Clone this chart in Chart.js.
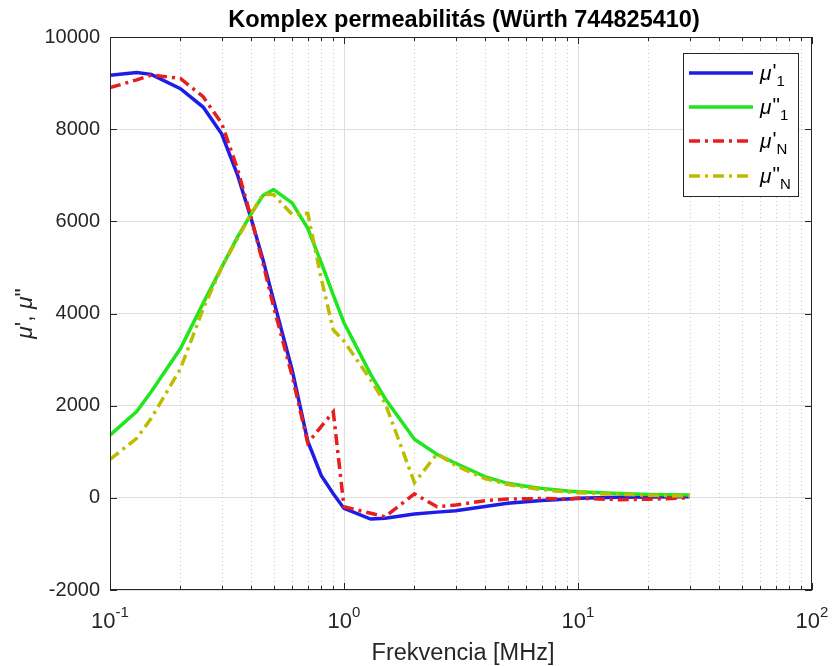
<!DOCTYPE html>
<html>
<head>
<meta charset="utf-8">
<script src="https://cdn.jsdelivr.net/npm/chart.js@4/dist/chart.umd.min.js"></script>
<style>
  body { margin: 0; background: #fff; }
</style>
</head>
<body>
<canvas id="permChart" width="833" height="666"></canvas>
<script>
// frequency points [MHz]
const freq = [0.1, 0.13, 0.15, 0.2, 0.25, 0.3, 0.35, 0.4, 0.45, 0.5, 0.6, 0.7, 0.8, 0.9, 1,
  1.3, 1.5, 2, 2.5, 3, 4, 5, 6, 7, 8, 9, 10, 15, 20, 30];

// single-turn measurement
const mu1Real = [9170, 9230, 9190, 8880, 8480, 7900, 7020, 6080, 5180, 4290, 2780, 1230, 480, 90, -230,
  -460, -445, -352, -310, -280, -190, -120, -85, -60, -40, -25, -10, 10, 20, 25];
const mu1Imag = [1360, 1870, 2300, 3240, 4220, 5000, 5650, 6150, 6560, 6690, 6400, 5850, 5100, 4400, 3800,
  2680, 2150, 1270, 940, 750, 460, 315, 250, 205, 175, 150, 133, 95, 75, 60];

// N-turn measurement
const muNReal = [8900, 9070, 9175, 9100, 8705, 8127, 7150, 6100, 5100, 4150, 2650, 1190, 1550, 1865, -195,
  -335, -410, 87, -195, -156, -62, -26, -20, -15, -20, -30, -10, -40, -30, 0];
const muNImag = [835, 1290, 1725, 2800, 4100, 5000, 5620, 6150, 6580, 6580, 6150, 6175, 4750, 3645, 3400,
  2560, 2050, 330, 955, 700, 420, 290, 225, 180, 150, 130, 110, 75, 55, 40];

const yTicks = [-2000, 0, 2000, 4000, 6000, 8000, 10000];
const xDecades = [-1, 0, 1, 2];

const FONT = '"Liberation Sans", Arial, Helvetica, sans-serif';
const AXIS = '#262626';

function series(values) {
  return freq.map((f, i) => ({ x: f, y: values[i] }));
}

function lineSet(label, values, color, dash, order) {
  return {
    label: label,
    data: series(values),
    borderColor: color,
    backgroundColor: color,
    borderWidth: 3.5,
    borderDash: dash,
    borderCapStyle: 'butt',
    pointRadius: 0,
    tension: 0,
    order: order
  };
}

// draws "μ" in italic followed by prime marks and an optional subscript
function drawMu(ctx, x, y, size, prime, sub) {
  ctx.font = 'italic ' + size + 'px ' + FONT;
  ctx.fillText('μ', x, y);
  x += ctx.measureText('μ').width + 1;
  ctx.font = size + 'px ' + FONT;
  ctx.fillText(prime, x, y - 2);
  x += ctx.measureText(prime).width;
  if (sub) {
    ctx.font = Math.round(size * 0.72) + 'px ' + FONT;
    ctx.fillText(sub, x, y + 6);
    x += ctx.measureText(sub).width;
  }
  return x;
}

const matlabAxes = {
  id: 'matlabAxes',
  beforeDatasetsDraw(chart) {
    const { ctx, chartArea: a, scales: { x } } = chart;
    ctx.save();
    ctx.lineWidth = 1;
    for (let k = -1; k < 2; k++) {
      for (let m = 1; m < 10; m++) {
        const px = Math.round(x.getPixelForValue(m * Math.pow(10, k))) + 0.5;
        if (m === 1) {
          ctx.strokeStyle = '#dedede';
          ctx.setLineDash([]);
        } else {
          ctx.strokeStyle = '#c8c8c8';
          ctx.setLineDash([1, 3]);
        }
        ctx.beginPath();
        ctx.moveTo(px, a.top);
        ctx.lineTo(px, a.bottom);
        ctx.stroke();
      }
    }
    ctx.restore();
  },
  afterDraw(chart) {
    const { ctx, chartArea: a, scales: { x, y } } = chart;
    ctx.save();

    // box and inward ticks
    ctx.strokeStyle = AXIS;
    ctx.lineWidth = 1;
    ctx.strokeRect(a.left + 0.5, a.top + 0.5, a.right - a.left - 1, a.bottom - a.top - 1);
    ctx.beginPath();
    for (let k = -1; k < 3; k++) {
      for (let m = 1; m < 10; m++) {
        const v = m * Math.pow(10, k);
        if (v > 100.0001) break;
        const px = Math.round(x.getPixelForValue(v)) + 0.5;
        const len = m === 1 ? 7 : 4;
        ctx.moveTo(px, a.bottom);
        ctx.lineTo(px, a.bottom - len);
        ctx.moveTo(px, a.top);
        ctx.lineTo(px, a.top + len);
      }
    }
    yTicks.forEach(v => {
      const py = Math.round(y.getPixelForValue(v)) + 0.5;
      ctx.moveTo(a.left, py);
      ctx.lineTo(a.left + 7, py);
      ctx.moveTo(a.right, py);
      ctx.lineTo(a.right - 7, py);
    });
    ctx.stroke();

    // decade labels 10^k
    ctx.fillStyle = AXIS;
    ctx.textBaseline = 'alphabetic';
    ctx.textAlign = 'left';
    xDecades.forEach(k => {
      const px = x.getPixelForValue(Math.pow(10, k));
      const exp = k < 0 ? '-' + (-k) : String(k);
      ctx.font = '22px ' + FONT;
      const wb = ctx.measureText('10').width;
      ctx.font = '15px ' + FONT;
      const we = ctx.measureText(exp).width;
      const x0 = px - (wb + we) / 2;
      ctx.font = '22px ' + FONT;
      ctx.fillText('10', x0, 628);
      ctx.font = '15px ' + FONT;
      ctx.fillText(exp, x0 + wb, 617);
    });

    // title and axis labels
    ctx.textAlign = 'center';
    ctx.font = 'bold 23.5px ' + FONT;
    ctx.fillStyle = '#000';
    ctx.fillText('Komplex permeabilitás (Würth 744825410)', (a.left + a.right) / 2 + 3, 27);
    ctx.fillStyle = AXIS;
    ctx.font = '23.5px ' + FONT;
    ctx.fillText('Frekvencia [MHz]', (a.left + a.right) / 2 + 2, 660);

    ctx.save();
    ctx.translate(32, (a.top + a.bottom) / 2);
    ctx.rotate(-Math.PI / 2);
    ctx.textAlign = 'left';
    const parts = [['μ', true], ["', ", false], ['μ', true], ['"', false]];
    let total = 0;
    parts.forEach(([t, it]) => {
      ctx.font = (it ? 'italic ' : '') + '23px ' + FONT;
      total += ctx.measureText(t).width;
    });
    let cx = -total / 2;
    parts.forEach(([t, it]) => {
      ctx.font = (it ? 'italic ' : '') + '23px ' + FONT;
      ctx.fillText(t, cx, 0);
      cx += ctx.measureText(t).width;
    });
    ctx.restore();

    // legend
    const lx = 683, ly = 53, lw = 115, lh = 143;
    ctx.fillStyle = '#fff';
    ctx.fillRect(lx, ly, lw, lh);
    ctx.strokeStyle = AXIS;
    ctx.lineWidth = 1;
    ctx.strokeRect(lx + 0.5, ly + 0.5, lw, lh);
    const rows = [73, 107, 141, 176];
    chart.data.datasets.forEach((ds, i) => {
      const ry = rows[i];
      ctx.strokeStyle = ds.borderColor;
      ctx.lineWidth = 3.5;
      ctx.lineCap = 'butt';
      ctx.setLineDash(ds.borderDash || []);
      ctx.beginPath();
      ctx.moveTo(689, ry);
      ctx.lineTo(753, ry);
      ctx.stroke();
      ctx.setLineDash([]);
      ctx.fillStyle = '#000';
      ctx.textAlign = 'left';
      drawMu(ctx, 760, ry + 7, 21, ds.label[1], ds.label.slice(2));
    });

    ctx.restore();
  }
};

const dashDot = [11, 5, 3, 5];

new Chart(document.getElementById('permChart'), {
  type: 'line',
  data: {
    datasets: [
      lineSet("μ'1", mu1Real, '#1d1de6', [], 4),
      lineSet('μ"1', mu1Imag, '#1fe61f', [], 3),
      lineSet("μ'N", muNReal, '#e61e1e', dashDot, 2),
      lineSet('μ"N', muNImag, '#bcbc00', dashDot, 1)
    ]
  },
  options: {
    responsive: false,
    animation: false,
    events: [],
    layout: { padding: { top: 37, right: 21, bottom: 76, left: 0 } },
    plugins: {
      legend: { display: false },
      title: { display: false },
      tooltip: { enabled: false }
    },
    scales: {
      x: {
        type: 'logarithmic',
        min: 0.1,
        max: 100,
        ticks: { display: false },
        grid: { display: false, drawTicks: false },
        border: { display: false },
        afterFit(scale) { scale.height = 0; }
      },
      y: {
        type: 'linear',
        min: -2000,
        max: 10000,
        afterBuildTicks(scale) { scale.ticks = yTicks.map(v => ({ value: v })); },
        ticks: {
          padding: 10,
          color: AXIS,
          font: { family: FONT, size: 20 },
          callback: v => String(v)
        },
        grid: { color: '#dedede', drawTicks: false },
        border: { display: false },
        afterFit(scale) { scale.width = 110; }
      }
    }
  },
  plugins: [matlabAxes]
});
</script>
</body>
</html>
